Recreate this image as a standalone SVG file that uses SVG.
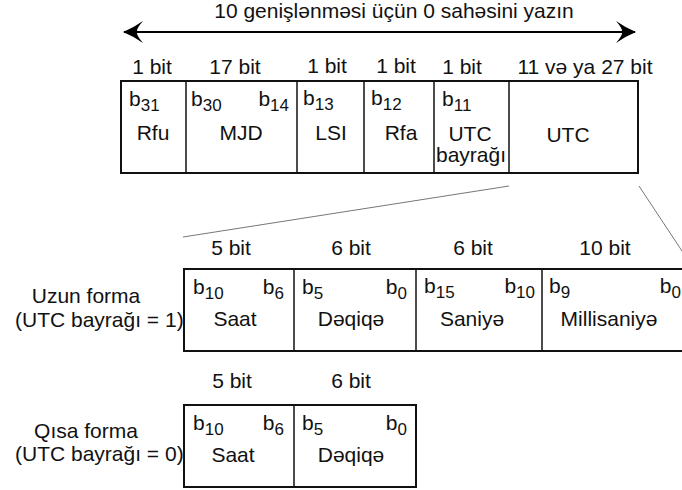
<svg xmlns="http://www.w3.org/2000/svg" width="682" height="490" viewBox="0 0 682 490">
<defs>
<marker id="ah" viewBox="0 0 20 22" refX="19" refY="11" markerWidth="20" markerHeight="22" markerUnits="userSpaceOnUse" orient="auto-start-reverse">
<path d="M0,0 Q10,7 20,11 Q10,15 0,22 Q7,14 6,11 Q7,8 0,0 Z" fill="#000"/>
</marker>
<style>
text{font-family:"Liberation Sans",Arial,sans-serif;font-size:21px;fill:#111}
.c{text-anchor:middle}
.r{text-anchor:end}
.s{font-size:17px}
.box{fill:#fff;stroke:#111;stroke-width:2}
.div{stroke:#111;stroke-width:1.5}
.thin{stroke:#777;stroke-width:1;fill:none}
</style>
</defs>
<g id="header">
<text class="c" x="394" y="18">10 genişlənməsi üçün 0 sahəsini yazın</text>
</g>
<g id="connectors">
<line x1="124" y1="32" x2="635" y2="32" stroke="#000" stroke-width="2" marker-start="url(#ah)" marker-end="url(#ah)"/>
<line class="thin" x1="509" y1="186" x2="183" y2="237"/>
<line class="thin" x1="639" y1="186" x2="684" y2="254"/>
</g>
<g id="top-bits">
<text class="c" x="152" y="74">1 bit</text>
<text class="c" x="235" y="74">17 bit</text>
<text class="c" x="327" y="73">1 bit</text>
<text class="c" x="396" y="73">1 bit</text>
<text class="c" x="462" y="74">1 bit</text>
<text class="c" x="585" y="74">11 və ya 27 bit</text>
</g>
<g id="top-frame">
<rect class="box" x="121" y="81" width="517" height="92"/>
<line class="div" x1="186" y1="81" x2="186" y2="173"/>
<line class="div" x1="297" y1="81" x2="297" y2="173"/>
<line class="div" x1="364" y1="81" x2="364" y2="173"/>
<line class="div" x1="434" y1="81" x2="434" y2="173"/>
<line class="div" x1="509" y1="81" x2="509" y2="173"/>
</g>
<g id="rfu">
<text x="129" y="106">b<tspan class="s" dy="5">31</tspan></text>
<text class="c" x="153" y="140">Rfu</text>
</g>
<g id="mjd">
<text x="191" y="106">b<tspan class="s" dy="5">30</tspan></text>
<text class="r" x="289" y="106">b<tspan class="s" dy="5">14</tspan></text>
<text class="c" x="241" y="140">MJD</text>
</g>
<g id="lsi">
<text x="303" y="105">b<tspan class="s" dy="5">13</tspan></text>
<text class="c" x="331" y="140">LSI</text>
</g>
<g id="rfa">
<text x="371" y="105">b<tspan class="s" dy="5">12</tspan></text>
<text class="c" x="401" y="140">Rfa</text>
</g>
<g id="utc-flag">
<text x="442" y="106">b<tspan class="s" dy="5">11</tspan></text>
<text class="c" x="470" y="141">UTC</text>
<text class="c" x="471" y="162">bayrağı</text>
</g>
<g id="utc">
<text class="c" x="568" y="142">UTC</text>
</g>
<g id="long-form">
<text class="c" x="86" y="303">Uzun forma</text>
<text x="15" y="327">(UTC bayrağı = 1)</text>
<text class="c" x="231" y="255">5 bit</text>
<text class="c" x="351" y="255">6 bit</text>
<text class="c" x="473" y="255">6 bit</text>
<text class="c" x="605" y="255">10 bit</text>
<path d="M690,269 H184 V351 H690" class="box"/>
<line class="div" x1="294" y1="269" x2="294" y2="351"/>
<line class="div" x1="416" y1="269" x2="416" y2="351"/>
<line class="div" x1="542" y1="269" x2="542" y2="351"/>
</g>
<g id="long-saat">
<text x="193" y="294">b<tspan class="s" dy="5">10</tspan></text>
<text class="r" x="284" y="294">b<tspan class="s" dy="5">6</tspan></text>
<text class="c" x="235" y="326">Saat</text>
</g>
<g id="long-deqiqe">
<text x="302" y="294">b<tspan class="s" dy="5">5</tspan></text>
<text class="r" x="407" y="294">b<tspan class="s" dy="5">0</tspan></text>
<text class="c" x="351" y="326">Dəqiqə</text>
</g>
<g id="long-saniye">
<text x="424" y="293">b<tspan class="s" dy="5">15</tspan></text>
<text class="r" x="535" y="293">b<tspan class="s" dy="5">10</tspan></text>
<text class="c" x="472" y="326">Saniyə</text>
</g>
<g id="long-ms">
<text x="549" y="293">b<tspan class="s" dy="5">9</tspan></text>
<text class="r" x="681" y="293">b<tspan class="s" dy="5">0</tspan></text>
<text class="c" x="609" y="326">Millisaniyə</text>
</g>
<g id="short-form">
<text class="c" x="86" y="438">Qısa forma</text>
<text x="15" y="461">(UTC bayrağı = 0)</text>
<text class="c" x="232" y="388">5 bit</text>
<text class="c" x="351" y="388">6 bit</text>
<rect class="box" x="184" y="405" width="232" height="82"/>
<line class="div" x1="294" y1="405" x2="294" y2="487"/>
</g>
<g id="short-saat">
<text x="193" y="430">b<tspan class="s" dy="5">10</tspan></text>
<text class="r" x="284" y="430">b<tspan class="s" dy="5">6</tspan></text>
<text class="c" x="233" y="462">Saat</text>
</g>
<g id="short-deqiqe">
<text x="302" y="430">b<tspan class="s" dy="5">5</tspan></text>
<text class="r" x="407" y="430">b<tspan class="s" dy="5">0</tspan></text>
<text class="c" x="351" y="462">Dəqiqə</text>
</g>
</svg>
